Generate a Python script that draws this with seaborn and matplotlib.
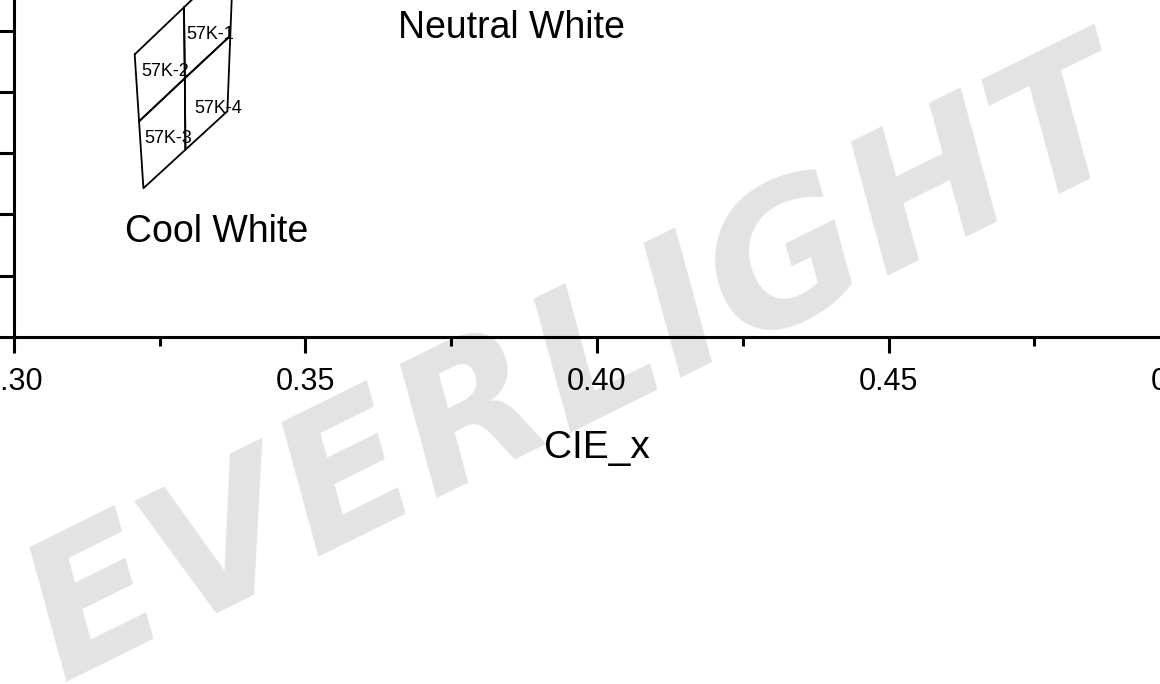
import numpy as np
import pandas as pd
import matplotlib
matplotlib.use("Agg")
import matplotlib.pyplot as plt
import seaborn as sns
from matplotlib.ticker import MultipleLocator
from matplotlib.transforms import IdentityTransform

# ---------------- data ----------------
bins = ["57K-1", "57K-2", "57K-3", "57K-4"]
bin_x = [
    [0.32915, 0.3376, 0.3371, 0.3293],
    [0.3207, 0.32915, 0.3293, 0.32145],
    [0.32145, 0.3293, 0.3294, 0.3222],
    [0.3293, 0.3371, 0.3366, 0.3294],
]
bin_y = [
    [0.3539, 0.3616, 0.34925, 0.3423],
    [0.3462, 0.3539, 0.3423, 0.33525],
    [0.33525, 0.3423, 0.3306, 0.3243],
    [0.3423, 0.34925, 0.3369, 0.3306],
]
label_x = [0.3295, 0.3219, 0.32235, 0.33093]
label_y = [0.34867, 0.34267, 0.33165, 0.33656]
region_names = ["Neutral White", "Cool White"]
region_x = [0.3659, 0.3190]
region_y = [0.3489, 0.31545]
x_ticks = [0.30, 0.35, 0.40, 0.45, 0.50]
x_tick_labels = ["0.30", "0.35", "0.40", "0.45", "0.50"]
y_ticks = [0.30, 0.31, 0.32, 0.33, 0.34, 0.35, 0.36, 0.37, 0.38]
watermark = "EVERLIGHT"
# DejaVu Sans Bold advance widths (em)
wm_adv = {"E": 0.683, "V": 0.774, "R": 0.770, "L": 0.637, "I": 0.372,
          "G": 0.821, "H": 0.837, "T": 0.682}

# ---------------- build frame ----------------
rows = []
for b, xs, ys in zip(bins, bin_x, bin_y):
    pts = list(zip(xs, ys)) + [(xs[0], ys[0])]
    for i, (px, py) in enumerate(pts):
        rows.append({"bin": b, "order": i, "x": px, "y": py})
df = pd.DataFrame(rows)

sns.set_theme(style="ticks")
plt.rcParams["font.family"] = ["Liberation Sans", "DejaVu Sans"]

W, H = 1160, 684
fig = plt.figure(figsize=(W / 100, H / 100), dpi=100)
fig.patch.set_facecolor("white")

x_px_per_unit = 5830.0
y_px_per_unit = 6110.0
left_px, bottom_px = 14.0, 336.7
ax = fig.add_axes([left_px / W, (H - bottom_px) / H,
                   0.20 * x_px_per_unit / W, 0.08 * y_px_per_unit / H])
ax.set_facecolor("none")

sns.lineplot(data=df, x="x", y="y", units="bin", estimator=None, sort=False,
             color="black", lw=1.3, ax=ax, legend=False)

ax.set_xlim(0.30, 0.50)
ax.set_ylim(0.30, 0.38)
ax.set_xticks(x_ticks)
ax.set_xticklabels(x_tick_labels)
ax.xaxis.set_minor_locator(MultipleLocator(0.025))
ax.set_yticks(y_ticks)
ax.tick_params(axis="both", which="major", length=11.5, width=2.2,
               direction="out", labelsize=22, pad=10, color="black",
               labelcolor="black")
ax.tick_params(axis="both", which="minor", length=6.5, width=2.2,
               direction="out", color="black")
ax.tick_params(axis="y", labelleft=False)
for s in ["top", "right"]:
    ax.spines[s].set_visible(False)
for s in ["left", "bottom"]:
    ax.spines[s].set_linewidth(2.2)
    ax.spines[s].set_color("black")
ax.set_xlabel("CIE_x", fontsize=28, labelpad=24, color="black")
ax.set_ylabel("")

for b, lx, ly in zip(bins, label_x, label_y):
    ax.text(lx, ly, b, fontsize=13, ha="left", va="baseline", color="black")
for n, rx, ry in zip(region_names, region_x, region_y):
    ax.text(rx, ry, n, fontsize=27, ha="left", va="baseline", color="black")

# ---------------- watermark ----------------
theta = 26.3
wm_size = 135
em_px = wm_size * 100 / 72
spread = 1.03
x0, y0 = 62.0, 682.0
c, s_ = np.cos(np.radians(theta)), np.sin(np.radians(theta))
pos = 0.0
for ch in watermark:
    px = x0 + pos * c
    py = y0 - pos * s_
    fig.text(px, H - py, ch, transform=IdentityTransform(), fontsize=wm_size,
             family="DejaVu Sans", weight="bold", style="italic",
             color="#e3e3e3", rotation=theta, rotation_mode="anchor",
             ha="left", va="baseline", zorder=-5)
    pos += wm_adv[ch] * em_px * spread

fig.savefig("out.png", dpi=100)
